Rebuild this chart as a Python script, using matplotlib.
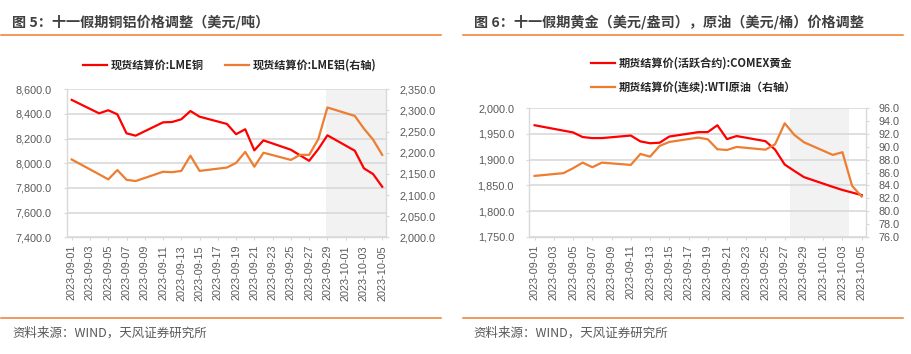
import matplotlib
matplotlib.use('Agg')
import matplotlib.pyplot as plt
import matplotlib.dates as mdates
from matplotlib.lines import Line2D
from matplotlib.ticker import FuncFormatter, MultipleLocator
import pandas as pd

plt.rcParams['font.family'] = ['Liberation Sans', 'Noto Sans CJK SC', 'DejaVu Sans']

# ---------------- data ----------------
metal_dates = ['2023-09-01', '2023-09-04', '2023-09-05', '2023-09-06', '2023-09-07', '2023-09-08',
               '2023-09-11', '2023-09-12', '2023-09-13', '2023-09-14', '2023-09-15',
               '2023-09-18', '2023-09-19', '2023-09-20', '2023-09-21', '2023-09-22',
               '2023-09-25', '2023-09-26', '2023-09-27', '2023-09-28', '2023-09-29',
               '2023-10-02', '2023-10-03', '2023-10-04', '2023-10-05']
lme_copper = [8514, 8405, 8430, 8397, 8243, 8224, 8332, 8335, 8357, 8424, 8378,
              8319, 8236, 8276, 8105, 8186, 8110, 8065, 8020, 8115, 8227,
              8102, 7959, 7913, 7810]
lme_alu = [2184, 2149, 2137, 2159, 2136, 2133, 2155, 2154, 2157, 2193, 2157,
           2165, 2176, 2202, 2167, 2200, 2183, 2195, 2195, 2232, 2307,
           2287, 2257, 2231, 2195]

gold_dates = ['2023-09-01', '2023-09-05', '2023-09-06', '2023-09-07', '2023-09-08',
              '2023-09-11', '2023-09-12', '2023-09-13', '2023-09-14', '2023-09-15',
              '2023-09-18', '2023-09-19', '2023-09-20', '2023-09-21', '2023-09-22',
              '2023-09-25', '2023-09-26', '2023-09-27', '2023-09-28', '2023-09-29',
              '2023-10-02', '2023-10-03', '2023-10-04', '2023-10-05']
comex_gold = [1967, 1953, 1944, 1942, 1942, 1947, 1935.5, 1932, 1933, 1945,
              1953.5, 1953.7, 1967, 1940, 1946, 1936, 1919.5, 1890.5, 1878, 1866,
              1847, 1841, 1836, 1831]

wti_dates = metal_dates
wti_oil = [85.47, 85.9, 86.67, 87.54, 86.82, 87.54, 87.18, 88.89, 88.47, 90.14, 90.76,
           91.43, 91.18, 89.62, 89.51, 89.98, 89.56, 90.4, 93.67, 91.85, 90.71,
           88.74, 89.16, 83.92, 82.25]

x_range = ('2023-08-31 10:48', '2023-10-05 10:00')
tick_start, tick_end = '2023-09-01', '2023-10-05'
left_shade = ('2023-09-28 19:00', '2023-10-05 10:00')
right_shade = ('2023-09-27 12:00', '2023-10-03 17:00')

title_left = '图 5：十一假期铜铝价格调整（美元/吨）'
title_right = '图 6：十一假期黄金（美元/盎司），原油（美元/桶）价格调整'
source_text = '资料来源：WIND，天风证券研究所'
lab_copper = '现货结算价:LME铜'
lab_alu = '现货结算价:LME铝(右轴)'
lab_gold = '期货结算价(活跃合约):COMEX黄金'
lab_wti = '期货结算价(连续):WTI原油（右轴）'

# ---------------- style ----------------
W, H, DPI = 912, 354, 100
RED = '#FF0000'
ORANGE = '#ED7D31'
GRID = '#D9D9D9'
TICKC = '#595959'
SHADE = '#F2F2F2'
FS = 7.8
CJK = ['Noto Sans CJK SC', 'DejaVu Sans']

fig = plt.figure(figsize=(W / DPI, H / DPI), dpi=DPI)


def px(x0, y_top, x1, y_bot):
    return [x0 / W, 1 - y_bot / H, (x1 - x0) / W, (y_bot - y_top) / H]


fmt = FuncFormatter(lambda v, p: f'{v:,.1f}')


def style_axes(ax, ax2, ylim, ystep, y2lim, y2step, shade, lpad, rpad):
    xr = pd.to_datetime(list(x_range))
    ax.set_xlim(xr[0], xr[1])
    ax.set_ylim(*ylim)
    ax.yaxis.set_major_locator(MultipleLocator(ystep))
    ax.yaxis.set_major_formatter(fmt)
    ax2.set_ylim(*y2lim)
    ax2.yaxis.set_major_locator(MultipleLocator(y2step))
    ax2.yaxis.set_major_formatter(fmt)
    ticks = pd.date_range(tick_start, tick_end, freq='2D')
    ax.set_xticks(ticks)
    ax.set_xticklabels([t.strftime('%Y-%m-%d') for t in ticks], rotation=90)
    ax.grid(axis='y', color=GRID, lw=1.2)
    ax.set_axisbelow(True)
    s = pd.to_datetime(list(shade))
    ax.axvspan(s[0], s[1], color=SHADE, lw=0, zorder=0)
    for a in (ax, ax2):
        for side in ('top',):
            a.spines[side].set_visible(False)
        for side in ('left', 'right', 'bottom'):
            a.spines[side].set_color(GRID)
            a.spines[side].set_linewidth(1.0)
        a.tick_params(colors=TICKC, labelsize=FS, length=2.5, width=0.8)
        a.tick_params(axis='both', color=GRID)
    ax.tick_params(axis='y', pad=lpad)
    ax2.tick_params(axis='y', pad=rpad)
    ax.tick_params(axis='x', pad=3)
    ax2.spines['left'].set_visible(False)
    ax2.spines['bottom'].set_visible(False)
    ax.spines['right'].set_visible(False)


# ----- left chart -----
axL = fig.add_axes(px(66.7, 89.3, 386, 237.3))
axL2 = axL.twinx()
l1, = axL.plot(pd.to_datetime(metal_dates), lme_copper, color=RED, lw=1.6, label=lab_copper)
l2, = axL2.plot(pd.to_datetime(metal_dates), lme_alu, color=ORANGE, lw=1.6, label=lab_alu)
style_axes(axL, axL2, (7400, 8600), 200, (2000, 2350), 50, left_shade, 8.5, 7.5)

# ----- right chart -----
axR = fig.add_axes(px(529.3, 108.3, 865.7, 236.7))
axR2 = axR.twinx()
r1, = axR.plot(pd.to_datetime(gold_dates), comex_gold, color=RED, lw=1.6, label=lab_gold)
r2, = axR2.plot(pd.to_datetime(wti_dates), wti_oil, color=ORANGE, lw=1.6, label=lab_wti)
style_axes(axR, axR2, (1750, 2000), 50, (76, 96), 2, right_shade, 8.5, 6.5)

# ----- legends -----
leg_kw = dict(frameon=False, borderpad=0, borderaxespad=0, handletextpad=0.3,
              handlelength=2.2, prop={'family': CJK, 'weight': 'bold', 'size': 8})
legL = fig.legend(handles=[l1, l2], loc='center left', ncol=2, columnspacing=1.9,
                  bbox_to_anchor=(82.7 / W, 1 - 65 / H), **leg_kw)
legR = fig.legend(handles=[r1, r2], loc='center left', ncol=1, labelspacing=1.0,
                  bbox_to_anchor=(591 / W, 1 - 75 / H), **leg_kw)
for lg in (legL, legR):
    for t in lg.get_texts():
        t.set_color('#262626')

# ----- titles, separators, sources -----
for x, title in ((12, title_left), (474, title_right)):
    fig.text(x / W, 1 - 21.7 / H, title, family=CJK, weight='bold', size=10.2,
             color='#404040', va='center', ha='left')
for x0, x1 in ((1, 441), (463, 903)):
    for y in (35, 318.3):
        fig.add_artist(Line2D([x0 / W, x1 / W], [1 - y / H, 1 - y / H],
                              transform=fig.transFigure, color=ORANGE, lw=1.1))
for x in (12, 473.5):
    fig.text(x / W, 1 - 333.3 / H, source_text, family=CJK, weight='light', size=9,
             color='#595959', va='center', ha='left')

fig.savefig('out.png', dpi=DPI)
